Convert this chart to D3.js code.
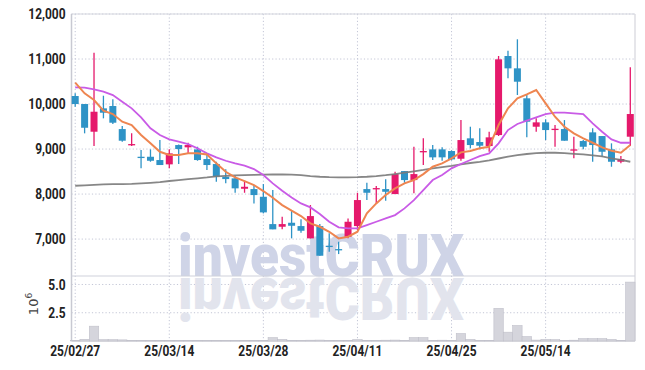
<!DOCTYPE html>
<html>
<head>
<meta charset="utf-8">
<script src="https://cdn.jsdelivr.net/npm/d3@7"></script>
<style>
    body { margin: 0; background: #fff; }
    .tick text { font-family: Roboto, sans-serif; font-weight: bold; fill: #222; }
</style>
</head>
<body>
<div id="chart"></div>
<script>

// trading days, OHLC, volume (10^6) and moving averages
let dates = ["25/02/27", "25/02/28", "25/03/04", "25/03/05", "25/03/06", "25/03/07", "25/03/10", "25/03/11", "25/03/12", "25/03/13",
    "25/03/14", "25/03/17", "25/03/18", "25/03/19", "25/03/20", "25/03/21", "25/03/24", "25/03/25", "25/03/26", "25/03/27",
    "25/03/28", "25/03/31", "25/04/01", "25/04/02", "25/04/03", "25/04/04", "25/04/07", "25/04/08", "25/04/09", "25/04/10",
    "25/04/11", "25/04/14", "25/04/15", "25/04/16", "25/04/17", "25/04/18", "25/04/21", "25/04/22", "25/04/23", "25/04/24",
    "25/04/25", "25/04/28", "25/04/29", "25/04/30", "25/05/02", "25/05/07", "25/05/08", "25/05/09", "25/05/12", "25/05/13",
    "25/05/14", "25/05/15", "25/05/16", "25/05/19", "25/05/20", "25/05/21", "25/05/22", "25/05/23", "25/05/26", "25/05/27"];

let opens = [10178, 10000, 9385, 9904, 9956, 9444, 9089, 8829, 8829, 8756,
    8660, 9089, 9038, 8993, 8778, 8667, 8385, 8349, 8118, 8111,
    7940, 7333, 7274, 7363, 7289, 7016, 7289, 6852, 6778, 7052,
    7289, 8111, 8104, 8111, 8000, 8511, 8311, 8933, 8993, 8993,
    8956, 8785, 9238, 9156, 9067, 9311, 11067, 10793, 10127, 9496,
    9593, 9429, 9444, 8971, 9178, 9371, 9289, 8993, 8718, 9274];

let highs = [10238, 10000, 11140, 10185, 10104, 9511, 9349, 8978, 8993, 9200,
    8993, 9100, 9140, 9051, 8889, 8718, 8549, 8400, 8296, 8200,
    8222, 8089, 7496, 7630, 7438, 7756, 7333, 7127, 6941, 7460,
    8029, 8251, 8178, 8327, 8496, 8511, 9051, 9238, 9089, 9040,
    8970, 9644, 9496, 9460, 9385, 11067, 11185, 11438, 10200, 9682,
    9660, 9533, 9644, 9274, 9200, 9460, 9289, 9127, 8844, 10815];

let lows = [9940, 9349, 9067, 9682, 9556, 9163, 9067, 8571, 8718, 8645,
    8571, 8667, 8904, 8740, 8533, 8273, 8238, 8029, 8029, 7793,
    7571, 7216, 7216, 7016, 7141, 7016, 6630, 6718, 6667, 7016,
    7200, 7867, 7778, 7852, 8000, 8251, 8016, 8645, 8756, 8740,
    8750, 8740, 9016, 8993, 8940, 9290, 10571, 10200, 9260, 9385,
    9200, 9051, 9185, 8793, 8993, 8718, 8829, 8607, 8682, 9067];

let closes = [10000, 9473, 9829, 9807, 9585, 9185, 9111, 8807, 8740, 8645,
    8904, 9000, 9089, 8756, 8645, 8385, 8333, 8127, 8162, 7978,
    7593, 7216, 7333, 7296, 7185, 7511, 6630, 6830, 6756, 7385,
    7867, 8029, 8133, 8051, 8444, 8311, 8444, 8956, 8816, 8816,
    8771, 9200, 9089, 9074, 9260, 10993, 10793, 10496, 9607, 9593,
    9422, 9451, 9185, 8993, 9051, 9089, 8940, 8718, 8778, 9778];

let volume = [0.05, 0.15, 1.31, 0.12, 0.12, 0.1, 0.05, 0.04, 0.03, 0.04,
    0.05, 0.04, 0.03, 0.06, 0.03, 0.04, 0.05, 0.03, 0.04, 0.05,
    0.06, 0.3, 0.14, 0.06, 0.05, 0.07, 0.08, 0.05, 0.04, 0.06,
    0.12, 0.06, 0.04, 0.07, 0.08, 0.05, 0.3, 0.3, 0.06, 0.07,
    0.05, 0.66, 0.14, 0.05, 0.06, 2.89, 0.78, 1.37, 0.39, 0.08,
    0.14, 0.12, 0.06, 0.07, 0.21, 0.21, 0.21, 0.14, 0.06, 5.21];

let ma5 = [10474, 10238, 10089, 9852, 9778, 9607, 9533, 9311, 9127, 8940,
    8867, 8867, 8904, 8904, 8880, 8682, 8496, 8371, 8289, 8200,
    8067, 7918, 7756, 7630, 7511, 7349, 7274, 7163, 7016, 7052,
    7163, 7571, 7793, 7978, 8127, 8238, 8311, 8444, 8607, 8682,
    8793, 8926, 8956, 9016, 9051, 9533, 9904, 10127, 10216, 10311,
    10016, 9718, 9496, 9349, 9238, 9140, 9038, 8963, 8918, 9089];

let ma20 = [10370, 10363, 10326, 10274, 10200, 10052, 9904, 9704, 9460, 9311,
    9215, 9163, 9111, 9016, 8904, 8816, 8740, 8682, 8630, 8556,
    8422, 8238, 8074, 7926, 7793, 7704, 7556, 7385, 7260, 7237,
    7237, 7311, 7385, 7460, 7533, 7682, 7867, 8089, 8311, 8422,
    8571, 8667, 8756, 8844, 8904, 9127, 9422, 9556, 9630, 9704,
    9778, 9807, 9807, 9793, 9778, 9571, 9385, 9215, 9140, 9140];

let ma120 = [8185, 8195, 8205, 8215, 8220, 8222, 8225, 8237, 8250, 8265,
    8290, 8310, 8330, 8350, 8370, 8395, 8405, 8415, 8420, 8425,
    8430, 8435, 8437, 8430, 8420, 8400, 8385, 8375, 8371, 8371,
    8375, 8385, 8400, 8420, 8445, 8474, 8505, 8535, 8570, 8600,
    8625, 8660, 8690, 8715, 8750, 8790, 8830, 8865, 8890, 8910,
    8918, 8918, 8910, 8895, 8880, 8860, 8835, 8795, 8760, 8718];

let priceTicks = [7000, 8000, 9000, 10000, 11000, 12000];
let volumeTicks = [2.5, 5.0];
let dateTicks = ["25/02/27", "25/03/14", "25/03/28", "25/04/11", "25/04/25", "25/05/14"];


let width = 645, height = 370;
let plotLeft = 71.5, plotRight = 635, plotTop = 14, plotSplit = 276, plotBottom = 341;

let svg = d3.select("#chart").append("svg")
    .attr("width", width)
    .attr("height", height);

let x = d3.scaleBand()
    .domain(dates)
    .range([70.5, plotRight])
    .paddingInner(0);
let cx = d => x(d) + x.bandwidth() / 2;

let y = d3.scaleLinear()
    .domain([6180, 12000])
    .range([plotSplit, plotTop]);

let yv = d3.scaleLinear()
    .domain([0, 5.75])
    .range([plotBottom, plotSplit]);

// grid
svg.append("g").selectAll("line")
    .data(priceTicks)
    .enter().append("line")
    .attr("x1", plotLeft).attr("x2", plotRight)
    .attr("y1", d => y(d)).attr("y2", d => y(d))
    .attr("stroke", "#c3c6d6")
    .attr("stroke-dasharray", "1.2,2.2");

svg.append("g").selectAll("line")
    .data(volumeTicks)
    .enter().append("line")
    .attr("x1", plotLeft).attr("x2", plotRight)
    .attr("y1", d => yv(d)).attr("y2", d => yv(d))
    .attr("stroke", "#c3c6d6")
    .attr("stroke-dasharray", "1.2,2.2");

svg.append("g").selectAll("line")
    .data(dateTicks)
    .enter().append("line")
    .attr("x1", d => cx(d)).attr("x2", d => cx(d))
    .attr("y1", plotTop).attr("y2", plotBottom)
    .attr("stroke", "#c3c6d6")
    .attr("stroke-dasharray", "1.2,2.2");

// watermark + reflection
let wm = svg.append("g");
wm.append("text")
    .attr("x", 178).attr("y", 276)
    .attr("textLength", 286)
    .attr("lengthAdjust", "spacingAndGlyphs")
    .style("font-family", "Roboto, sans-serif")
    .style("font-weight", 900)
    .style("font-size", "60px")
    .attr("fill", "#cfd4e7")
    .text("investCRUX");

wm.append("text")
    .attr("x", 178).attr("y", 276)
    .attr("transform", "translate(0," + (2 * 277) + ") scale(1,-1)")
    .attr("textLength", 286)
    .attr("lengthAdjust", "spacingAndGlyphs")
    .style("font-family", "Roboto, sans-serif")
    .style("font-weight", 900)
    .style("font-size", "60px")
    .attr("fill", "#e2e4ed")
    .text("investCRUX");

// frame
svg.append("line").attr("x1", plotLeft).attr("x2", plotRight).attr("y1", plotTop).attr("y2", plotTop)
    .attr("stroke", "#d6d7e0").attr("stroke-width", 1.2);
svg.append("line").attr("x1", plotLeft).attr("x2", plotLeft).attr("y1", plotTop).attr("y2", plotBottom)
    .attr("stroke", "#c8c9d2").attr("stroke-width", 1.5);
svg.append("line").attr("x1", plotRight).attr("x2", plotRight).attr("y1", plotTop).attr("y2", plotBottom)
    .attr("stroke", "#d6d6dc").attr("stroke-width", 1.2);
svg.append("line").attr("x1", plotLeft).attr("x2", plotRight).attr("y1", plotSplit).attr("y2", plotSplit)
    .attr("stroke", "#cfd1dc").attr("stroke-width", 1.2);
svg.append("line").attr("x1", plotLeft).attr("x2", plotRight).attr("y1", plotBottom).attr("y2", plotBottom)
    .attr("stroke", "#bdbec8").attr("stroke-width", 1.2);

// volume bars
svg.append("g").selectAll("rect")
    .data(volume)
    .enter().append("rect")
    .attr("x", (d, i) => x(dates[i]))
    .attr("y", d => yv(d))
    .attr("width", x.bandwidth())
    .attr("height", d => plotBottom - yv(d))
    .attr("fill", "#d5d5dc")
    .attr("stroke", "#c0c0ca")
    .attr("stroke-width", 0.6);

// candles
let up = "#e5196b", down = "#2e93c6";
let candles = svg.append("g").selectAll("g")
    .data(dates)
    .enter().append("g");

candles.append("line")
    .attr("x1", d => cx(d)).attr("x2", d => cx(d))
    .attr("y1", (d, i) => y(highs[i]))
    .attr("y2", (d, i) => y(lows[i]))
    .attr("stroke", (d, i) => closes[i] >= opens[i] ? up : down)
    .attr("stroke-width", 1.3);

candles.append("rect")
    .attr("x", d => cx(d) - 3.5)
    .attr("width", 7)
    .attr("y", (d, i) => y(Math.max(opens[i], closes[i])))
    .attr("height", (d, i) => Math.max(1.3, Math.abs(y(opens[i]) - y(closes[i]))))
    .attr("fill", (d, i) => closes[i] >= opens[i] ? up : down);

// moving averages
let line = d3.line()
    .x((d, i) => cx(dates[i]))
    .y(d => y(d));

svg.append("path").datum(ma120)
    .attr("d", line).attr("fill", "none")
    .attr("stroke", "#7a7a7a").attr("stroke-opacity", 0.9).attr("stroke-width", 1.8);
svg.append("path").datum(ma20)
    .attr("d", line).attr("fill", "none")
    .attr("stroke", "#c95be6").attr("stroke-width", 1.8);
svg.append("path").datum(ma5)
    .attr("d", line).attr("fill", "none")
    .attr("stroke", "#ee8550").attr("stroke-width", 2);

// axes
let yAxis = svg.append("g")
    .attr("transform", "translate(" + plotLeft + ",0)")
    .call(d3.axisLeft(y).tickValues(priceTicks).tickFormat(d3.format(",")).tickSize(0).tickPadding(6));
yAxis.select(".domain").remove();

let vAxis = svg.append("g")
    .attr("transform", "translate(" + plotLeft + ",0)")
    .call(d3.axisLeft(yv).tickValues(volumeTicks).tickFormat(d3.format(".1f")).tickSize(0).tickPadding(6));
vAxis.select(".domain").remove();

let xAxis = svg.append("g")
    .attr("transform", "translate(0," + plotBottom + ")")
    .call(d3.axisBottom(x).tickValues(dateTicks).tickSize(0).tickPadding(4));
xAxis.select(".domain").remove();

// condensed look: squeeze every tick label by the same factor
let labels = svg.selectAll(".tick text").style("font-size", "15px");
let squeeze = 50 / xAxis.select(".tick text").node().getComputedTextLength();
labels.each(function () {
    let w = this.getComputedTextLength();
    d3.select(this).attr("textLength", w * squeeze).attr("lengthAdjust", "spacingAndGlyphs");
});

// unit label
let unit = svg.append("text")
    .attr("transform", "translate(38,304) rotate(-90)")
    .attr("text-anchor", "middle")
    .style("font-family", "\"DejaVu Sans\", sans-serif")
    .style("font-size", "13px")
    .attr("fill", "#444");
unit.append("tspan").text("10");
unit.append("tspan").attr("dy", -6).style("font-size", "9px").text("6");

</script>
</body>
</html>
